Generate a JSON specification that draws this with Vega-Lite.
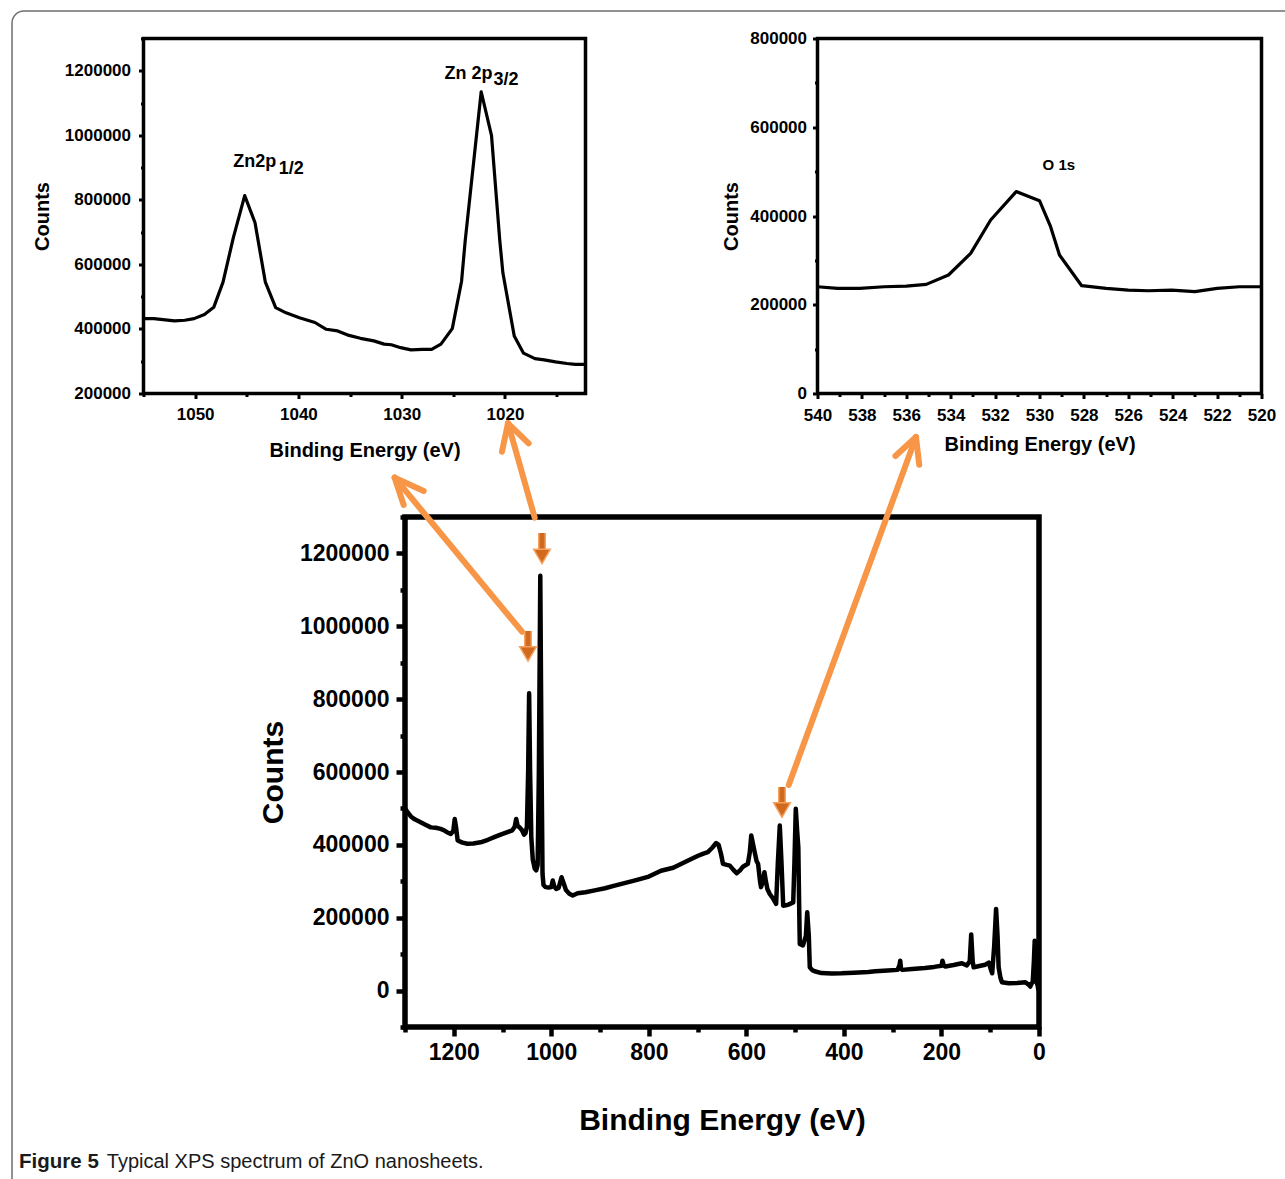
{
  "$schema": "https://vega.github.io/schema/vega-lite/v6.json",
  "background": "white",
  "padding": {"left": 8.5, "top": 6.5, "right": 0, "bottom": 0},
  "config": {
    "font": "Liberation Sans",
    "view": {"stroke": "black"},
    "axis": {"grid": false, "domain": false, "labelFont": "Liberation Sans", "titleFont": "Liberation Sans", "labelFontWeight": "bold", "titleFontWeight": "bold", "labelColor": "black", "titleColor": "black", "tickColor": "black", "labelFlush": false, "labelOverlap": false}
  },
  "datasets": {
    "zn": [
      {"E": 1055.0, "C": 432000}, {"E": 1054.0, "C": 432000}, {"E": 1052.0, "C": 425000}, {"E": 1051.0, "C": 427000}, {"E": 1050.1, "C": 432000}, {"E": 1049.1, "C": 445000}, {"E": 1048.2, "C": 467000}, {"E": 1047.3, "C": 545000}, {"E": 1046.3, "C": 683000}, {"E": 1045.2, "C": 813000}, {"E": 1044.2, "C": 729000}, {"E": 1043.2, "C": 545000}, {"E": 1042.2, "C": 466000}, {"E": 1041.2, "C": 450000}, {"E": 1039.9, "C": 435000}, {"E": 1038.4, "C": 420000}, {"E": 1037.3, "C": 399000}, {"E": 1036.2, "C": 394000}, {"E": 1035.1, "C": 380000}, {"E": 1034.0, "C": 371000}, {"E": 1032.7, "C": 363000}, {"E": 1031.7, "C": 353000}, {"E": 1031.0, "C": 351000}, {"E": 1030.1, "C": 342000}, {"E": 1029.1, "C": 335000}, {"E": 1028.0, "C": 337000}, {"E": 1027.1, "C": 337000}, {"E": 1026.2, "C": 353000}, {"E": 1025.1, "C": 401000}, {"E": 1024.2, "C": 548000}, {"E": 1023.85, "C": 673000}, {"E": 1022.3, "C": 1135000}, {"E": 1021.3, "C": 999000}, {"E": 1020.5, "C": 674000}, {"E": 1020.2, "C": 574000}, {"E": 1019.1, "C": 378000}, {"E": 1018.2, "C": 325000}, {"E": 1017.1, "C": 308000}, {"E": 1016.2, "C": 304000}, {"E": 1015.1, "C": 298000}, {"E": 1014.0, "C": 293000}, {"E": 1013.2, "C": 290000}, {"E": 1012.2, "C": 290000}
    ],
    "znlab": [
      {"E": 1046.3, "C": 901200, "t": "Zn2p"},
      {"E": 1041.9, "C": 878600, "t": "1/2"},
      {"E": 1025.85, "C": 1175100, "t": "Zn 2p"},
      {"E": 1021.1, "C": 1154400, "t": "3/2"}
    ],
    "aInv": [{"E": 1050, "C": 1330986}, {"E": 1010.75, "C": -38600}],
    "o1s": [
      {"E": 540, "C": 240600}, {"E": 539.1, "C": 236900}, {"E": 538.1, "C": 236900}, {"E": 537, "C": 240600}, {"E": 536, "C": 242100}, {"E": 535.1, "C": 245900}, {"E": 534.1, "C": 267000}, {"E": 533.1, "C": 315800}, {"E": 532.2, "C": 391000}, {"E": 531.05, "C": 455000}, {"E": 530, "C": 434600}, {"E": 529.5, "C": 376000}, {"E": 529.1, "C": 312000}, {"E": 528.1, "C": 242900}, {"E": 527, "C": 236900}, {"E": 526, "C": 233100}, {"E": 525.1, "C": 231600}, {"E": 524.05, "C": 233100}, {"E": 523, "C": 229400}, {"E": 522, "C": 236900}, {"E": 521, "C": 240600}, {"E": 520, "C": 240600}
    ],
    "olab": [{"E": 529.86, "C": 502800, "t": "O 1s"}],
    "bInv": [{"E": 545.225, "C": 822500}],
    "survey": [
      {"E": 1300, "C": 500000}, {"E": 1296, "C": 492000}, {"E": 1288, "C": 478000}, {"E": 1280, "C": 470000}, {"E": 1268, "C": 462000}, {"E": 1258, "C": 455000}, {"E": 1247, "C": 448000}, {"E": 1237, "C": 447000}, {"E": 1227, "C": 444000}, {"E": 1220, "C": 440000}, {"E": 1213, "C": 434000}, {"E": 1206, "C": 430000}, {"E": 1201, "C": 438000}, {"E": 1198, "C": 471000}, {"E": 1195, "C": 445000}, {"E": 1192, "C": 412000}, {"E": 1182, "C": 406000}, {"E": 1172, "C": 403000}, {"E": 1160, "C": 404000}, {"E": 1145, "C": 407000}, {"E": 1130, "C": 414000}, {"E": 1117, "C": 421000}, {"E": 1104, "C": 428000}, {"E": 1090, "C": 435000}, {"E": 1080, "C": 440000}, {"E": 1075, "C": 450000}, {"E": 1072, "C": 471000}, {"E": 1069, "C": 452000}, {"E": 1065, "C": 448000}, {"E": 1060, "C": 440000}, {"E": 1056, "C": 428000}, {"E": 1053, "C": 432000}, {"E": 1050, "C": 450000}, {"E": 1047.5, "C": 600000}, {"E": 1045.5, "C": 816000}, {"E": 1043.5, "C": 600000}, {"E": 1041, "C": 420000}, {"E": 1038, "C": 360000}, {"E": 1034, "C": 335000}, {"E": 1031, "C": 330000}, {"E": 1028, "C": 345000}, {"E": 1025.5, "C": 600000}, {"E": 1022.6, "C": 1139000}, {"E": 1020, "C": 620000}, {"E": 1018, "C": 320000}, {"E": 1016, "C": 290000}, {"E": 1012, "C": 284000}, {"E": 1005, "C": 283000}, {"E": 1000, "C": 284000}, {"E": 997, "C": 302000}, {"E": 994, "C": 286000}, {"E": 990, "C": 279000}, {"E": 985, "C": 282000}, {"E": 979, "C": 311000}, {"E": 975, "C": 296000}, {"E": 970, "C": 276000}, {"E": 963, "C": 266000}, {"E": 956, "C": 261000}, {"E": 946, "C": 267000}, {"E": 930, "C": 270000}, {"E": 911, "C": 275000}, {"E": 890, "C": 281000}, {"E": 870, "C": 288000}, {"E": 850, "C": 295000}, {"E": 830, "C": 302000}, {"E": 800, "C": 313000}, {"E": 775, "C": 329000}, {"E": 750, "C": 337000}, {"E": 730, "C": 350000}, {"E": 713, "C": 361000}, {"E": 699, "C": 370000}, {"E": 688, "C": 376000}, {"E": 679, "C": 380000}, {"E": 670, "C": 392000}, {"E": 662, "C": 405000}, {"E": 657, "C": 400000}, {"E": 652, "C": 375000}, {"E": 648, "C": 348000}, {"E": 640, "C": 345000}, {"E": 634, "C": 343000}, {"E": 627, "C": 332000}, {"E": 620, "C": 322000}, {"E": 613, "C": 330000}, {"E": 607, "C": 340000}, {"E": 597, "C": 348000}, {"E": 593, "C": 380000}, {"E": 590, "C": 426000}, {"E": 586, "C": 400000}, {"E": 583, "C": 380000}, {"E": 579, "C": 355000}, {"E": 576, "C": 348000}, {"E": 572, "C": 300000}, {"E": 570, "C": 284000}, {"E": 566, "C": 300000}, {"E": 563, "C": 325000}, {"E": 560, "C": 300000}, {"E": 557, "C": 279000}, {"E": 552, "C": 265000}, {"E": 545, "C": 252000}, {"E": 539, "C": 238000}, {"E": 535.5, "C": 350000}, {"E": 531.5, "C": 453000}, {"E": 528, "C": 350000}, {"E": 524.5, "C": 233000}, {"E": 519, "C": 234000}, {"E": 514, "C": 236000}, {"E": 504, "C": 242000}, {"E": 501.5, "C": 350000}, {"E": 498.7, "C": 499000}, {"E": 496, "C": 440000}, {"E": 493.5, "C": 393000}, {"E": 492, "C": 250000}, {"E": 490.5, "C": 128000}, {"E": 484, "C": 124000}, {"E": 478, "C": 150000}, {"E": 475.3, "C": 215000}, {"E": 472, "C": 150000}, {"E": 470, "C": 64000}, {"E": 465, "C": 56000}, {"E": 460, "C": 53000}, {"E": 446, "C": 48000}, {"E": 425, "C": 47000}, {"E": 405, "C": 47500}, {"E": 380, "C": 49000}, {"E": 350, "C": 51000}, {"E": 336, "C": 53000}, {"E": 310, "C": 55000}, {"E": 290, "C": 56800}, {"E": 286, "C": 70000}, {"E": 284.5, "C": 82000}, {"E": 283, "C": 60000}, {"E": 280, "C": 56800}, {"E": 260, "C": 59000}, {"E": 234, "C": 62000}, {"E": 215, "C": 65000}, {"E": 200, "C": 68000}, {"E": 198, "C": 82000}, {"E": 195, "C": 68000}, {"E": 192, "C": 66000}, {"E": 175, "C": 70000}, {"E": 158, "C": 75000}, {"E": 148, "C": 69000}, {"E": 142, "C": 80000}, {"E": 139, "C": 154000}, {"E": 136, "C": 80000}, {"E": 134, "C": 64000}, {"E": 120, "C": 68000}, {"E": 110, "C": 71000}, {"E": 103, "C": 77000}, {"E": 98, "C": 55000}, {"E": 96, "C": 47500}, {"E": 92, "C": 120000}, {"E": 88, "C": 224000}, {"E": 85, "C": 150000}, {"E": 82.8, "C": 64000}, {"E": 79, "C": 35000}, {"E": 76, "C": 23000}, {"E": 62, "C": 20000}, {"E": 45, "C": 21000}, {"E": 28, "C": 22800}, {"E": 20, "C": 15000}, {"E": 18, "C": 11000}, {"E": 15, "C": 20000}, {"E": 12.9, "C": 22800}, {"E": 10.5, "C": 80000}, {"E": 8.8, "C": 137000}, {"E": 7, "C": 60000}, {"E": 6, "C": 27000}, {"E": 3, "C": 15000}, {"E": 1, "C": 0}
    ],
    "cInv": [{"E": 650, "C": 600000}],
    "spacer": [{"E": 0, "C": 0}],
    "frame": [{"E": 2105.8, "E2": -539.3, "C": 2689020, "C2": -574900}],
    "arrows": [
      {"E": 1060.1, "C": 985130, "E2": 1321.1, "C2": 1407880},
      {"E": 1321.1, "C": 1407880, "E2": 1261.7, "C2": 1371370},
      {"E": 1321.1, "C": 1407880, "E2": 1302.7, "C2": 1332940},
      {"E": 1034.0, "C": 1298080, "E2": 1088.8, "C2": 1557210},
      {"E": 1088.8, "C": 1557210, "E2": 1046.4, "C2": 1502310},
      {"E": 1088.8, "C": 1557210, "E2": 1101.1, "C2": 1479250},
      {"E": 513.2, "C": 564310, "E2": 252.2, "C2": 1519610},
      {"E": 252.2, "C": 1519610, "E2": 245.6, "C2": 1443290},
      {"E": 252.2, "C": 1519610, "E2": 294.4, "C2": 1467450}
    ],
    "shafts": [
      {"E": 1019.1, "C": 1256080, "C2": 1201180},
      {"E": 1047.8, "C": 987060, "C2": 936280},
      {"E": 526.96, "C": 558830, "C2": 506670}
    ],
    "heads": [
      {"E": 1019.1, "C": 1191570},
      {"E": 1047.8, "C": 923920},
      {"E": 526.96, "C": 495670}
    ],
    "caption": [
      {"E": 2091.3, "C": -485690, "t": "Figure 5", "w": "b"},
      {"E": 1911.5, "C": -485690, "t": "Typical XPS spectrum of ZnO nanosheets.", "w": "n"}
    ]
  },
  "columns": 1,
  "align": "none",
  "spacing": -466.5,
  "concat": [
    {
      "spacing": 95,
      "hconcat": [
        {
          "width": 442,
          "height": 355,
          "view": {"stroke": "black", "strokeWidth": 3.5},
          "resolve": {"axis": {"x": "independent", "y": "independent"}},
          "layer": [
            {
              "data": {"name": "zn"},
              "mark": {"type": "line", "color": "black", "strokeWidth": 3.2, "strokeJoin": "round"},
              "encoding": {
                "x": {"field": "E", "type": "quantitative", "scale": {"domain": [1012.2, 1055], "reverse": true, "nice": false, "zero": false},
                  "axis": {"orient": "bottom", "values": [1020, 1030, 1040, 1050], "format": "d", "title": "Binding Energy (eV)", "labelFontSize": 17, "titleFontSize": 20, "tickSize": 5, "tickWidth": 3, "labelPadding": 8, "titlePadding": 18}},
                "y": {"field": "C", "type": "quantitative", "scale": {"domain": [200000, 1300000], "nice": false, "zero": false},
                  "axis": {"orient": "left", "values": [200000, 400000, 600000, 800000, 1000000, 1200000], "format": "d", "title": "Counts", "labelFontSize": 17, "titleFontSize": 20, "tickSize": 5, "tickWidth": 3, "labelPadding": 8, "titlePadding": 12}}
              }
            },
            {
              "data": {"name": "aInv"},
              "mark": {"type": "circle", "size": 4, "opacity": 0},
              "encoding": {
                "x": {"field": "E", "type": "quantitative", "scale": {"domain": [1012.2, 1055], "reverse": true, "nice": false, "zero": false},
                  "axis": {"orient": "bottom", "values": [1015, 1025, 1035, 1045, 1055], "labels": false, "title": null, "tickSize": 3, "tickWidth": 3}},
                "y": {"field": "C", "type": "quantitative", "scale": {"domain": [200000, 1300000], "nice": false, "zero": false},
                  "axis": {"orient": "left", "values": [300000, 500000, 700000, 900000, 1100000, 1300000], "labels": false, "title": null, "tickSize": 3, "tickWidth": 3}}
              }
            },
            {
              "data": {"name": "znlab"},
              "mark": {"type": "text", "align": "left", "baseline": "alphabetic", "fontSize": 18, "fontWeight": "bold", "color": "black"},
              "encoding": {
                "x": {"field": "E", "type": "quantitative", "scale": {"domain": [1012.2, 1055], "reverse": true, "nice": false, "zero": false}, "axis": null},
                "y": {"field": "C", "type": "quantitative", "scale": {"domain": [200000, 1300000], "nice": false, "zero": false}, "axis": null},
                "text": {"field": "t"}
              }
            }
          ]
        },
        {
          "width": 444,
          "height": 355,
          "view": {"stroke": "black", "strokeWidth": 3.5},
          "resolve": {"axis": {"x": "independent", "y": "independent"}},
          "layer": [
            {
              "data": {"name": "o1s"},
              "mark": {"type": "line", "color": "black", "strokeWidth": 3.2, "strokeJoin": "round"},
              "encoding": {
                "x": {"field": "E", "type": "quantitative", "scale": {"domain": [520, 540], "reverse": true, "nice": false, "zero": false},
                  "axis": {"orient": "bottom", "values": [520, 522, 524, 526, 528, 530, 532, 534, 536, 538, 540], "format": "d", "title": "Binding Energy (eV)", "labelFontSize": 17, "titleFontSize": 20, "tickSize": 5, "tickWidth": 3, "labelPadding": 9, "titlePadding": 11}},
                "y": {"field": "C", "type": "quantitative", "scale": {"domain": [0, 800000], "nice": false},
                  "axis": {"orient": "left", "values": [0, 200000, 400000, 600000, 800000], "format": "d", "title": "Counts", "labelFontSize": 17, "titleFontSize": 20, "tickSize": 5, "tickWidth": 3, "labelPadding": 6, "titlePadding": 8}}
              }
            },
            {
              "data": {"name": "bInv"},
              "mark": {"type": "circle", "size": 4, "opacity": 0},
              "encoding": {
                "x": {"field": "E", "type": "quantitative", "scale": {"domain": [520, 540], "reverse": true, "nice": false, "zero": false},
                  "axis": {"orient": "bottom", "values": [521, 523, 525, 527, 529, 531, 533, 535, 537, 539], "labels": false, "title": null, "tickSize": 3, "tickWidth": 3}},
                "y": {"field": "C", "type": "quantitative", "scale": {"domain": [0, 800000], "nice": false},
                  "axis": {"orient": "left", "values": [100000, 300000, 500000, 700000], "labels": false, "title": null, "tickSize": 3, "tickWidth": 3}}
              }
            },
            {
              "data": {"name": "olab"},
              "mark": {"type": "text", "align": "left", "baseline": "alphabetic", "fontSize": 15, "fontWeight": "bold", "color": "black"},
              "encoding": {
                "x": {"field": "E", "type": "quantitative", "scale": {"domain": [520, 540], "reverse": true, "nice": false, "zero": false}, "axis": null},
                "y": {"field": "C", "type": "quantitative", "scale": {"domain": [0, 800000], "nice": false}, "axis": null},
                "text": {"field": "t"}
              }
            }
          ]
        }
      ]
    },
    {
      "spacing": -136.5,
      "hconcat": [
        {
          "width": 1,
          "height": 1,
          "view": {"stroke": null},
          "data": {"name": "spacer"},
          "mark": {"type": "circle", "size": 1, "opacity": 0},
          "encoding": {
            "x": {"field": "E", "type": "quantitative", "scale": {"domain": [0, 1]}, "axis": null},
            "y": {"field": "C", "type": "quantitative", "scale": {"domain": [0, 1]}, "axis": null}
          }
        },
        {
          "width": 634,
          "height": 510,
          "view": {"stroke": "black", "strokeWidth": 5.5},
          "resolve": {"axis": {"x": "independent", "y": "independent"}},
          "layer": [
            {
              "data": {"name": "survey"},
              "mark": {"type": "line", "color": "black", "strokeWidth": 4.5, "strokeJoin": "round"},
              "encoding": {
                "x": {"field": "E", "type": "quantitative", "scale": {"domain": [0, 1300], "reverse": true, "nice": false, "zero": false},
                  "axis": {"orient": "bottom", "values": [0, 200, 400, 600, 800, 1000, 1200], "format": "d", "title": "Binding Energy (eV)", "labelFontSize": 23, "titleFontSize": 30, "tickSize": 9, "tickWidth": 4.5, "labelPadding": 5, "titlePadding": 41}},
                "y": {"field": "C", "type": "quantitative", "scale": {"domain": [-100000, 1300000], "nice": false, "zero": false},
                  "axis": {"orient": "left", "values": [0, 200000, 400000, 600000, 800000, 1000000, 1200000], "format": "d", "title": "Counts", "labelFontSize": 23, "titleFontSize": 30, "tickSize": 9, "tickWidth": 4.5, "labelPadding": 7, "titlePadding": 11}}
              }
            },
            {
              "data": {"name": "cInv"},
              "mark": {"type": "circle", "size": 4, "opacity": 0},
              "encoding": {
                "x": {"field": "E", "type": "quantitative", "scale": {"domain": [0, 1300], "reverse": true, "nice": false, "zero": false},
                  "axis": {"orient": "bottom", "values": [100, 300, 500, 700, 900, 1100, 1300], "labels": false, "title": null, "tickSize": 5, "tickWidth": 4.5}},
                "y": {"field": "C", "type": "quantitative", "scale": {"domain": [-100000, 1300000], "nice": false, "zero": false},
                  "axis": {"orient": "left", "values": [-100000, 100000, 300000, 500000, 700000, 900000, 1100000, 1300000], "labels": false, "title": null, "tickSize": 5, "tickWidth": 4.5}}
              }
            },
            {
              "data": {"name": "frame"},
              "mark": {"type": "rect", "filled": false, "color": "#6e6e6e", "strokeWidth": 1.5, "strokeJoin": "round", "cornerRadius": 12},
              "encoding": {
                "x": {"field": "E", "type": "quantitative", "scale": {"domain": [0, 1300], "reverse": true, "nice": false, "zero": false}, "axis": null},
                "x2": {"field": "E2"},
                "y": {"field": "C", "type": "quantitative", "scale": {"domain": [-100000, 1300000], "nice": false, "zero": false}, "axis": null},
                "y2": {"field": "C2"}
              }
            },
            {
              "data": {"name": "arrows"},
              "mark": {"type": "rule", "color": "#F79646", "strokeWidth": 6, "strokeCap": "round"},
              "encoding": {
                "x": {"field": "E", "type": "quantitative", "scale": {"domain": [0, 1300], "reverse": true, "nice": false, "zero": false}, "axis": null},
                "x2": {"field": "E2"},
                "y": {"field": "C", "type": "quantitative", "scale": {"domain": [-100000, 1300000], "nice": false, "zero": false}, "axis": null},
                "y2": {"field": "C2"}
              }
            },
            {
              "data": {"name": "shafts"},
              "mark": {"type": "rule", "color": "#F6A25E", "strokeWidth": 8},
              "encoding": {
                "x": {"field": "E", "type": "quantitative", "scale": {"domain": [0, 1300], "reverse": true, "nice": false, "zero": false}, "axis": null},
                "y": {"field": "C", "type": "quantitative", "scale": {"domain": [-100000, 1300000], "nice": false, "zero": false}, "axis": null},
                "y2": {"field": "C2"}
              }
            },
            {
              "data": {"name": "shafts"},
              "mark": {"type": "rule", "color": "#CF6A1F", "strokeWidth": 5},
              "encoding": {
                "x": {"field": "E", "type": "quantitative", "scale": {"domain": [0, 1300], "reverse": true, "nice": false, "zero": false}, "axis": null},
                "y": {"field": "C", "type": "quantitative", "scale": {"domain": [-100000, 1300000], "nice": false, "zero": false}, "axis": null},
                "y2": {"field": "C2"}
              }
            },
            {
              "data": {"name": "heads"},
              "mark": {"type": "point", "shape": "triangle-down", "size": 280, "filled": true, "fill": "#CF6A1F", "stroke": "#F6A25E", "strokeWidth": 1.5, "opacity": 1},
              "encoding": {
                "x": {"field": "E", "type": "quantitative", "scale": {"domain": [0, 1300], "reverse": true, "nice": false, "zero": false}, "axis": null},
                "y": {"field": "C", "type": "quantitative", "scale": {"domain": [-100000, 1300000], "nice": false, "zero": false}, "axis": null}
              }
            },
            {
              "data": {"name": "caption"},
              "transform": [{"filter": "datum.w === 'b'"}],
              "mark": {"type": "text", "align": "left", "baseline": "alphabetic", "fontSize": 20.5, "fontWeight": "bold", "color": "#1a1a1a"},
              "encoding": {
                "x": {"field": "E", "type": "quantitative", "scale": {"domain": [0, 1300], "reverse": true, "nice": false, "zero": false}, "axis": null},
                "y": {"field": "C", "type": "quantitative", "scale": {"domain": [-100000, 1300000], "nice": false, "zero": false}, "axis": null},
                "text": {"field": "t"}
              }
            },
            {
              "data": {"name": "caption"},
              "transform": [{"filter": "datum.w === 'n'"}],
              "mark": {"type": "text", "align": "left", "baseline": "alphabetic", "fontSize": 20, "fontWeight": "normal", "color": "#1a1a1a"},
              "encoding": {
                "x": {"field": "E", "type": "quantitative", "scale": {"domain": [0, 1300], "reverse": true, "nice": false, "zero": false}, "axis": null},
                "y": {"field": "C", "type": "quantitative", "scale": {"domain": [-100000, 1300000], "nice": false, "zero": false}, "axis": null},
                "text": {"field": "t"}
              }
            }
          ]
        }
      ]
    }
  ]
}
